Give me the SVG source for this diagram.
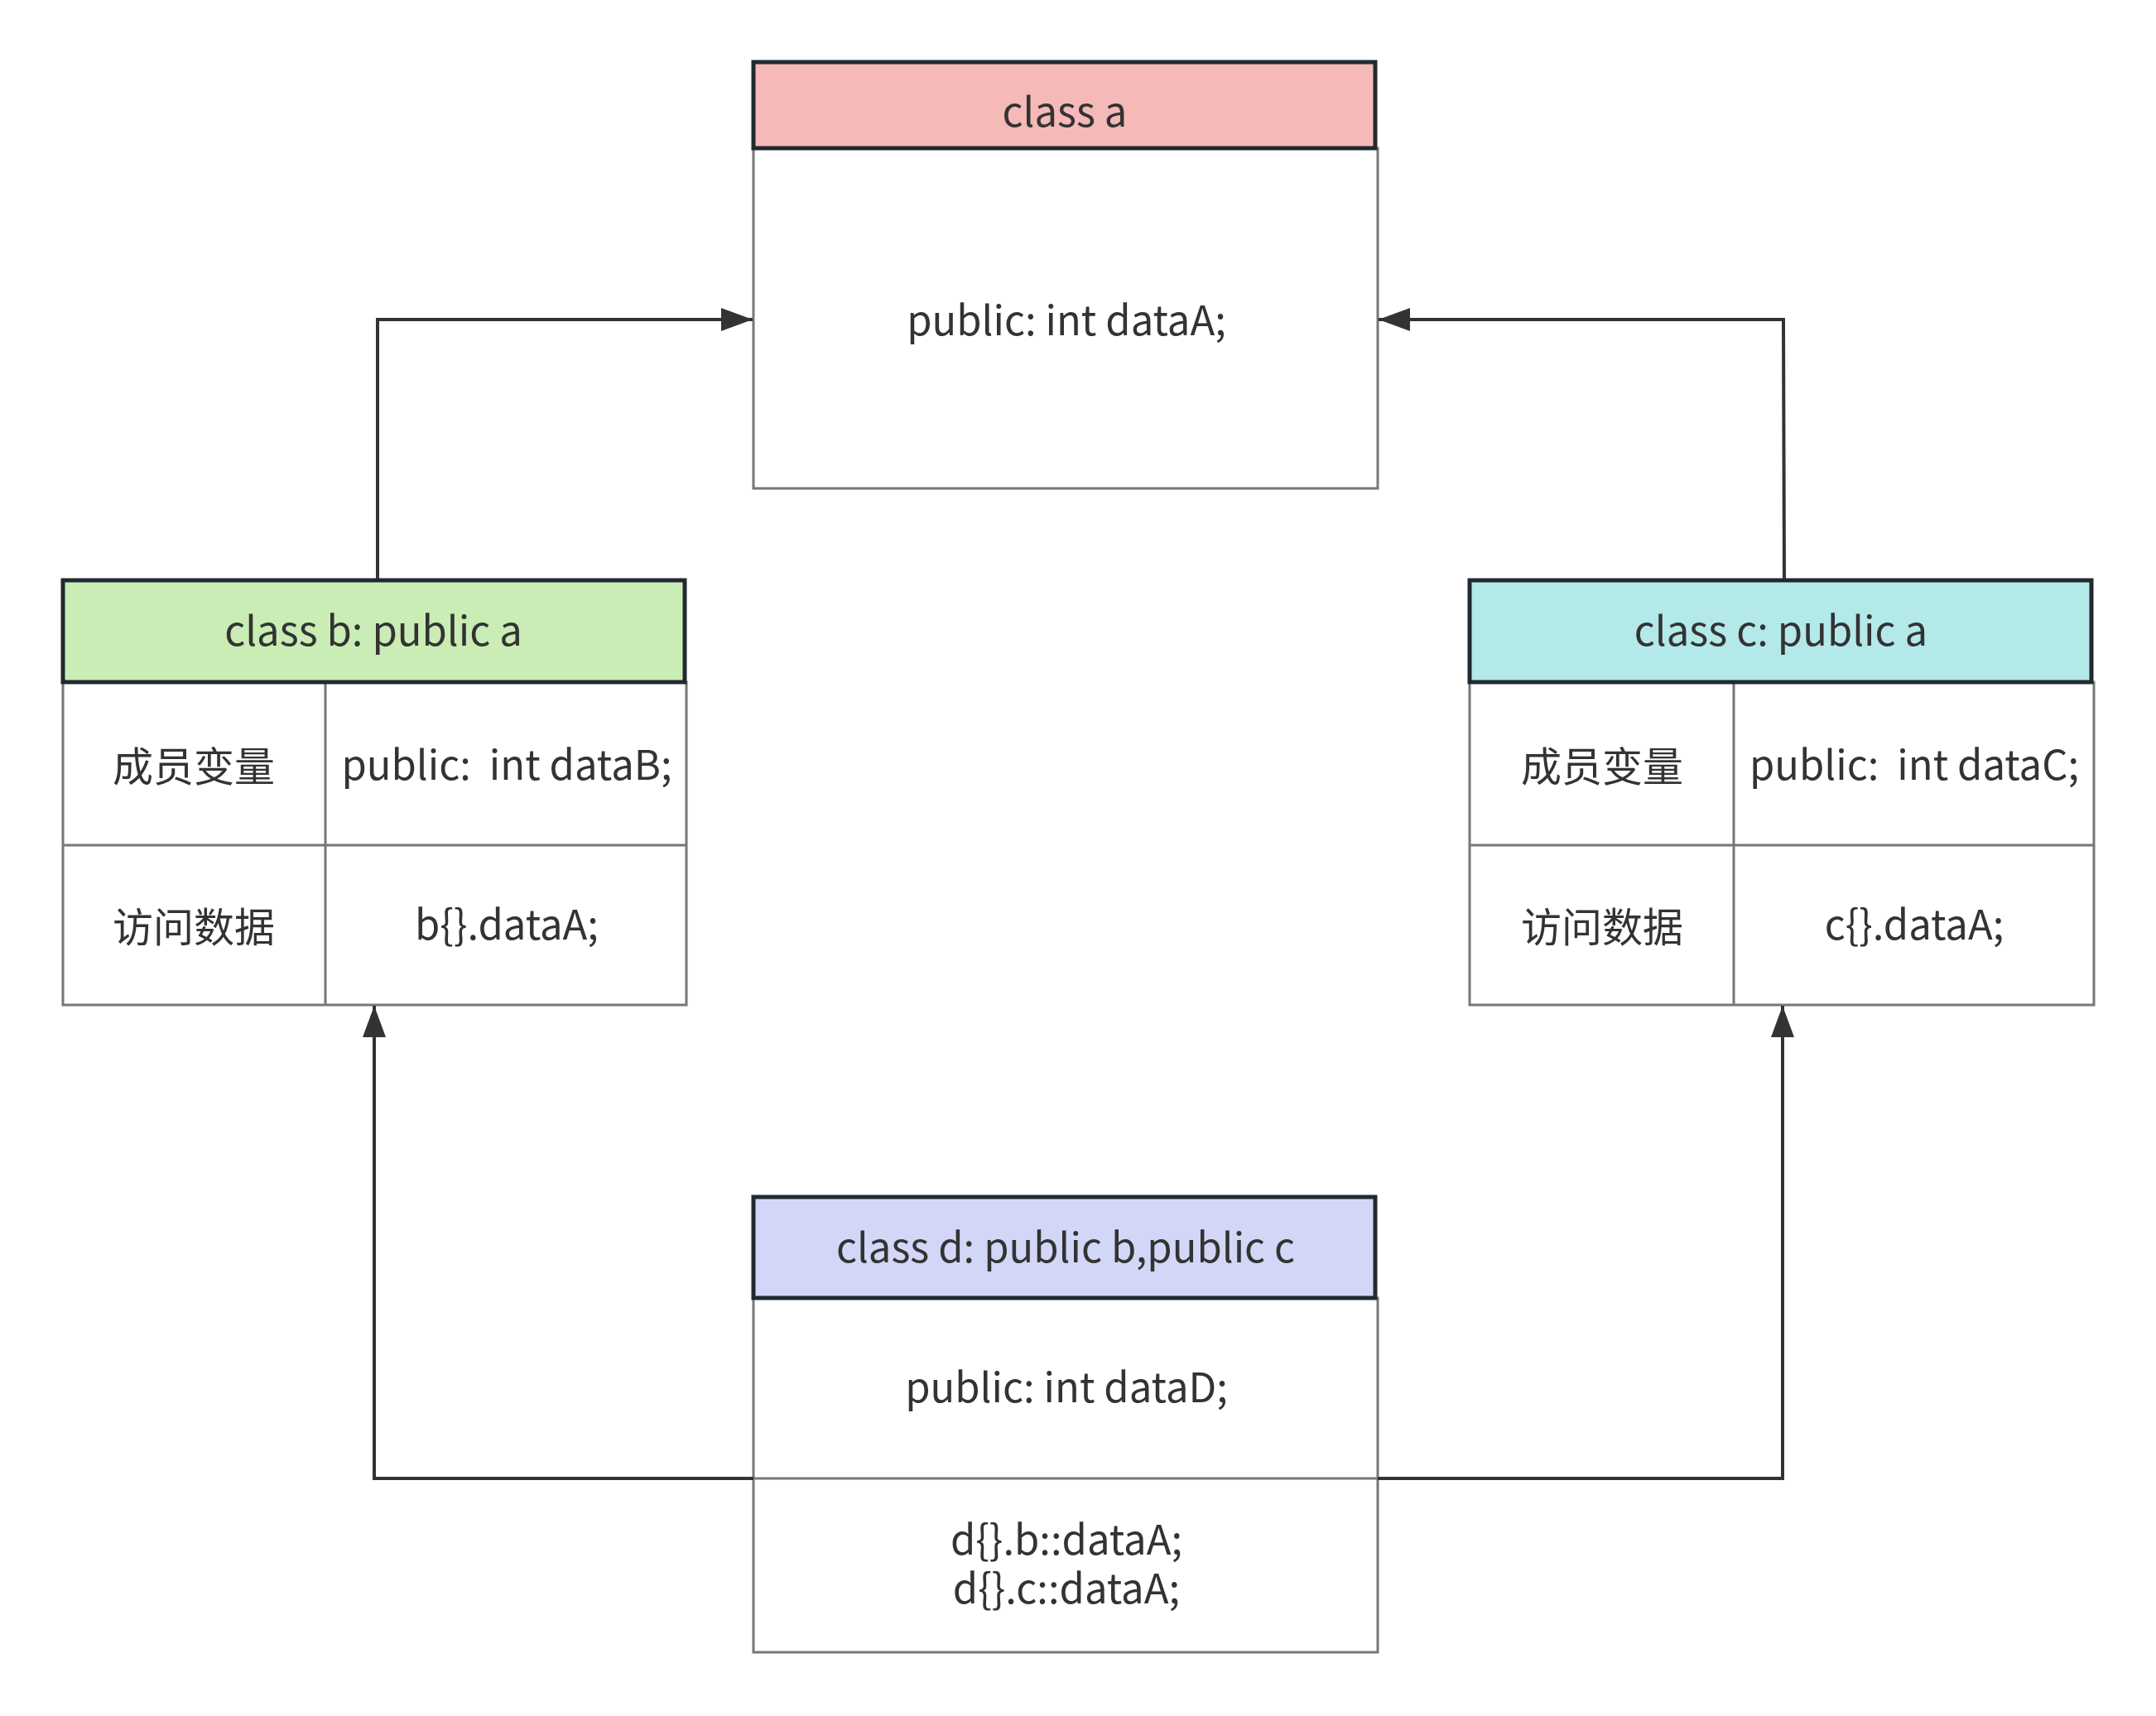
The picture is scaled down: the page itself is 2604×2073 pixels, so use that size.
<svg xmlns="http://www.w3.org/2000/svg" width="2604" height="2073" viewBox="0 0 2604 2073">
<style>
.hdr{stroke:#212930;stroke-width:5}
.body{fill:#ffffff;stroke:#777777;stroke-width:3}
.div{stroke:#777777;stroke-width:3;fill:none}
.t{font-family:"Noto Sans CJK SC","Noto Sans",sans-serif;font-size:49px;fill:#333333;text-anchor:middle}
.conn{fill:none;stroke:#333333;stroke-width:4}
</style>
<defs>
<marker id="arr" viewBox="0 0 38 28" refX="38" refY="14" markerWidth="38" markerHeight="28" markerUnits="userSpaceOnUse" orient="auto">
<path d="M0,0 L38,14 L0,28 Z" fill="#333333"/>
</marker>
</defs>
<rect width="2604" height="2073" fill="#ffffff"/>
<g id="class-a">
<rect class="body" x="910" y="179" width="754" height="411"/>
<rect class="hdr" x="910" y="75" width="751" height="104" fill="#f5b9b8"/>
<text class="t" x="1286" y="153">class a</text>
<text class="t" x="1288" y="405">public: int dataA;</text>
</g>
<g id="class-b">
<rect class="body" x="76" y="824" width="753" height="390"/>
<line class="div" x1="393" y1="824" x2="393" y2="1214"/>
<line class="div" x1="76" y1="1021" x2="829" y2="1021"/>
<rect class="hdr" x="76" y="701" width="751" height="123" fill="#c9edb5"/>
<text class="t" x="451" y="780">class b: public a</text>
<text class="t" x="234" y="944">成员变量</text>
<text class="t" x="612" y="942" xml:space="preserve">public:  int dataB;</text>
<text class="t" x="234" y="1138">访问数据</text>
<text class="t" x="612" y="1135">b{}.dataA;</text>
</g>
<g id="class-c">
<rect class="body" x="1775" y="824" width="754" height="390"/>
<line class="div" x1="2094" y1="824" x2="2094" y2="1214"/>
<line class="div" x1="1775" y1="1021" x2="2529" y2="1021"/>
<rect class="hdr" x="1775" y="701" width="751" height="123" fill="#b4e9ea"/>
<text class="t" x="2151" y="780">class c: public a</text>
<text class="t" x="1935" y="944">成员变量</text>
<text class="t" x="2312" y="942" xml:space="preserve">public:  int dataC;</text>
<text class="t" x="1935" y="1138">访问数据</text>
<text class="t" x="2312" y="1135">c{}.dataA;</text>
</g>
<g id="class-d">
<rect class="body" x="910" y="1568" width="754" height="428"/>
<line class="div" x1="910" y1="1786" x2="1664" y2="1786"/>
<rect class="hdr" x="910" y="1446" width="751" height="122" fill="#d3d7f7"/>
<text class="t" x="1287" y="1525">class d: public b,public c</text>
<text class="t" x="1288" y="1694">public: int dataD;</text>
<text class="t" x="1288" y="1878">d{}.b::dataA;<tspan x="1288" y="1937">d{}.c::dataA;</tspan></text>
</g>
<g id="connectors">
<path class="conn" d="M456,699 L456,386 L909,386" marker-end="url(#arr)"/>
<path class="conn" d="M2155,699 L2154,386 L1665,386" marker-end="url(#arr)"/>
<path class="conn" d="M910,1786 L452,1786 L452,1215" marker-end="url(#arr)"/>
<path class="conn" d="M1664,1786 L2153,1786 L2153,1215" marker-end="url(#arr)"/>
</g>
</svg>
